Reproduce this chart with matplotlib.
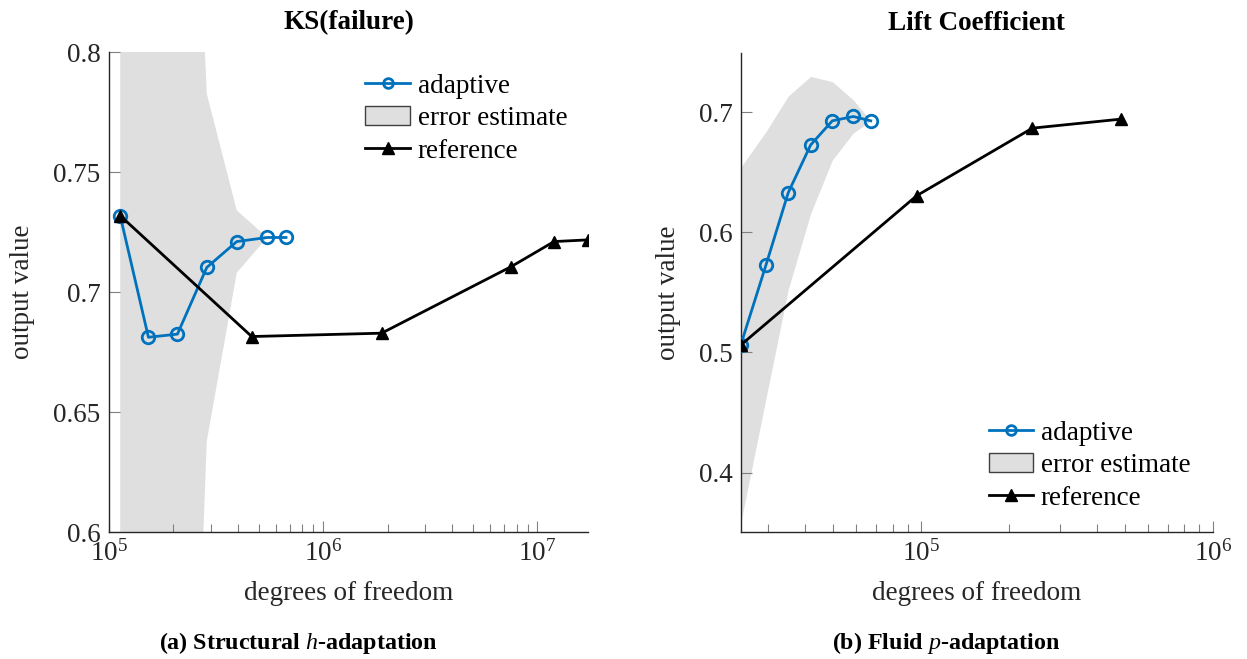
import matplotlib.pyplot as plt
import numpy as np
from matplotlib.lines import Line2D
from matplotlib.patches import Patch
from matplotlib.ticker import FuncFormatter, NullFormatter, FixedLocator

plt.rcParams['font.family'] = 'Liberation Serif'
plt.rcParams['mathtext.fontset'] = 'custom'
plt.rcParams['mathtext.rm'] = 'Liberation Serif'
plt.rcParams['mathtext.it'] = 'Liberation Serif:italic'
plt.rcParams['mathtext.bf'] = 'Liberation Serif:bold'

# structural h-adaptation, KS(failure)
ks_adapt_dof = [1.128e5, 1.528e5, 2.087e5, 2.861e5, 3.95e5, 5.48e5, 6.71e5]
ks_adapt_val = [0.7319, 0.6812, 0.6825, 0.7103, 0.7211, 0.7228, 0.7228]
ks_err = [0.9, 0.6, 0.375, 0.0725, 0.013, 0.0]
ks_ref_dof = [1.128e5, 4.64e5, 1.875e6, 7.57e6, 1.197e7, 1.724e7]
ks_ref_val = [0.7319, 0.6815, 0.6829, 0.7107, 0.7211, 0.7218]
ks_yticks = [0.6, 0.65, 0.7, 0.75, 0.8]

# fluid p-adaptation, lift coefficient
cl_adapt_dof = [2.41e4, 2.942e4, 3.507e4, 4.187e4, 4.966e4, 5.862e4, 6.725e4]
cl_adapt_val = [0.5061, 0.5728, 0.6330, 0.6728, 0.6928, 0.6964, 0.6928]
cl_err = [0.148, 0.111, 0.0805, 0.057, 0.0326, 0.0137, 0.0]
cl_ref_dof = [2.41e4, 9.67e4, 2.408e5, 4.84e5]
cl_ref_val = [0.5061, 0.6305, 0.6867, 0.6942]
cl_yticks = [0.4, 0.5, 0.6, 0.7]

BLUE = '#0072BD'
BAND = '#DFDFDF'
TXT = '#262626'
FS = 19.5


def panel(ax, a_x, a_y, err, r_x, r_y, xlim, ylim, yticks, title, leg_anchor):
    n = len(err)
    a_x = np.array(a_x)
    a_y = np.array(a_y)
    e = np.array(err)
    ax.fill_between(a_x[:n], a_y[:n] - e, a_y[:n] + e, color=BAND, lw=0, zorder=1)
    ax.plot(a_x, a_y, '-o', color=BLUE, lw=2.0, ms=9, mfc='none', mew=2.0, zorder=3)
    ax.plot(r_x, r_y, '-^', color='black', lw=2.0, ms=9, zorder=4)

    ax.set_xscale('log')
    ax.set_xlim(*xlim)
    ax.set_ylim(*ylim)
    ax.yaxis.set_major_locator(FixedLocator(yticks))
    ax.yaxis.set_major_formatter(FuncFormatter(lambda v, p: '%g' % v))
    ax.xaxis.set_minor_formatter(NullFormatter())

    for s in ['top', 'right']:
        ax.spines[s].set_visible(False)
    for s in ['left', 'bottom']:
        ax.spines[s].set_color(TXT)
        ax.spines[s].set_linewidth(1.0)
    ax.tick_params(which='major', direction='in', length=8, width=0.8,
                   color='#808080', labelsize=FS, labelcolor=TXT, pad=6)
    ax.tick_params(which='minor', direction='in', length=5.5, width=0.8,
                   color='#808080')
    ax.tick_params(axis='y', which='minor', left=False)

    ax.set_xlabel('degrees of freedom', fontsize=FS, color=TXT, labelpad=10)
    ax.set_ylabel('output value', fontsize=FS, color=TXT, labelpad=13)
    ax.set_title(title, fontsize=FS, fontweight='bold', color='black', pad=17)

    handles = [
        Line2D([], [], color=BLUE, lw=2.0, marker='o', ms=7, mfc='none', mew=2.0),
        Patch(facecolor=BAND, edgecolor='#404040', lw=1.0),
        Line2D([], [], color='black', lw=2.0, marker='^', ms=8),
    ]
    ax.legend(handles, ['adaptive', 'error estimate', 'reference'],
              loc='upper left', bbox_to_anchor=leg_anchor, frameon=False,
              fontsize=FS, handlelength=1.65, handletextpad=0.28,
              labelspacing=0.27, borderpad=0, borderaxespad=0)


fig = plt.figure(figsize=(12.47, 6.59), dpi=100)
ax1 = fig.add_axes([0.0874, 0.1927, 0.3841, 0.7279])
ax2 = fig.add_axes([0.5940, 0.1927, 0.3785, 0.7264])

panel(ax1, ks_adapt_dof, ks_adapt_val, ks_err, ks_ref_dof, ks_ref_val,
      (1e5, 1.724e7), (0.6, 0.8), ks_yticks, 'KS(failure)', (0.535, 0.955))
panel(ax2, cl_adapt_dof, cl_adapt_val, cl_err, cl_ref_dof, cl_ref_val,
      (2.41e4, 1e6), (0.3505, 0.749), cl_yticks, 'Lift Coefficient', (0.525, 0.232))

fig.text(0.239, 1 - 643 / 659, r'(a) Structural $h$-adaptation', fontsize=17.3,
         fontweight='bold', ha='center', va='center')
fig.text(0.759, 1 - 643 / 659, r'(b) Fluid $p$-adaptation', fontsize=17.3,
         fontweight='bold', ha='center', va='center')

fig.savefig('out.png', dpi=100)
